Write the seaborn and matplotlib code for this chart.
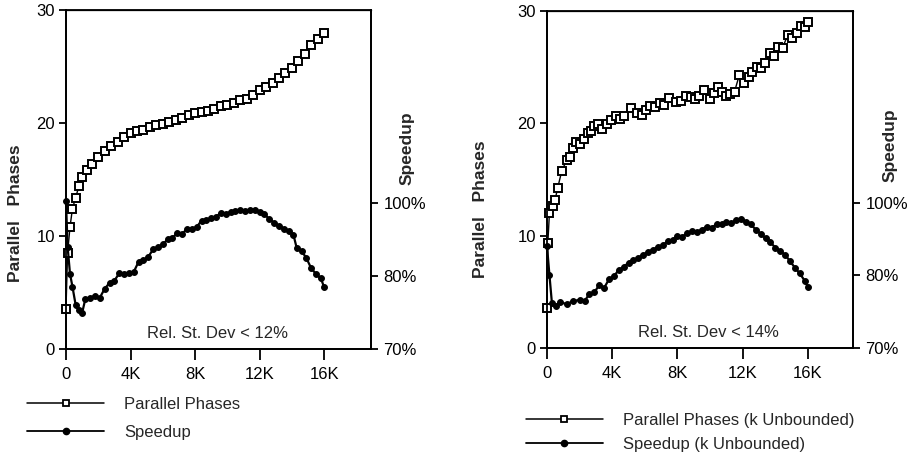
import matplotlib
matplotlib.use('Agg')
import matplotlib.pyplot as plt
from matplotlib.lines import Line2D
from matplotlib.ticker import FixedLocator, FuncFormatter, NullLocator
import numpy as np
import pandas as pd
import seaborn as sns

sns.set_theme(style='ticks')
plt.rcParams['font.family'] = ['Liberation Sans', 'DejaVu Sans']

# left panel: parallel phases / speedup
x_phases_a = [0, 100, 250, 400, 600, 800, 1000, 1300, 1600, 2000, 2400, 2800, 3200, 3600, 4000,
              4400, 4800, 5200, 5600, 6000, 6400, 6800, 7200, 7600, 8000, 8400, 8800, 9200, 9600,
              10000, 10400, 10800, 11200, 11600, 12000, 12400, 12800, 13200, 13600, 14000, 14400,
              14800, 15200, 15600, 16000]
phases_a = [3.5, 8.5, 10.8, 12.4, 13.4, 14.4, 15.2, 15.8, 16.4, 17.0, 17.5, 18.0, 18.3, 18.8, 19.1,
            19.3, 19.4, 19.6, 19.8, 19.9, 20.1, 20.3, 20.4, 20.7, 20.9, 21.0, 21.1, 21.2, 21.5,
            21.6, 21.8, 22.0, 22.1, 22.5, 22.9, 23.2, 23.5, 24.0, 24.4, 24.9, 25.5,
            26.1, 26.9, 27.4, 28.0]

x_speed_a = [0, 100, 250, 400, 600, 800, 1000, 1200, 1500, 1800, 2100, 2400, 2700, 3000, 3300,
             3600, 3900, 4200, 4500, 4800, 5100, 5400, 5700, 6000, 6300, 6600, 6900, 7200, 7500,
             7800, 8100, 8400, 8700, 9000, 9300, 9600, 9900, 10200, 10500, 10800, 11100, 11400,
             11700, 12000, 12300, 12600, 12900, 13200, 13500, 13800, 14100, 14300, 14600, 14900,
             15200, 15500, 15800, 16000]
speedup_a = [100.6, 88.0, 80.5, 78.5, 76.0, 75.3, 74.9, 76.8, 77.0, 77.2, 77.0, 78.2, 79.0, 79.3, 80.6,
             80.4, 80.6, 81.0, 83.8, 84.2, 85.2, 87.2, 87.9, 88.6, 90.0, 90.4, 91.8, 91.4, 93.0,
             92.8, 93.4, 95.2, 95.4, 95.8, 96.2, 97.4, 97.0, 97.6, 97.8, 98.0, 97.8, 98.2,
             98.0, 97.6, 97.0, 95.6, 94.6, 93.8, 93.0, 92.2, 91.2, 87.6, 86.8, 84.8,
             82.0, 80.4, 79.6, 78.4]

# right panel: k unbounded
x_phases_b = [0, 50, 150, 350, 500, 650, 900, 1200, 1400, 1600, 1800, 2000, 2250, 2500, 2700, 2900,
              3150, 3400, 3650, 3900, 4250, 4500, 4750, 5150, 5500, 5800, 6050, 6300, 6600, 6900,
              7200, 7500, 7900, 8200, 8550, 8800, 9050, 9350, 9650, 10000, 10250, 10500, 10750,
              11000, 11250, 11500, 11800, 12100, 12400, 12600, 12850, 13100, 13350, 13650, 13900,
              14150, 14450, 14750, 15050, 15300, 15600, 15800, 16000]
phases_b = [3.55, 9.3, 12.0, 12.6, 13.2, 14.2, 15.7, 16.7, 17.0, 17.8, 18.3, 18.1, 18.6, 19.1, 19.3, 19.7,
            19.9, 19.5, 19.9, 20.3, 20.6, 20.4, 20.6, 21.3, 20.9, 20.7, 21.2, 21.5, 21.4, 21.8,
            21.6, 22.2, 21.9, 22.0, 22.4, 22.3, 22.1, 22.4, 22.9, 22.1, 22.7, 23.2, 22.8,
            22.4, 22.6, 22.8, 24.3, 23.6, 24.1, 24.5, 25.0, 24.9, 25.3, 26.2, 26.0,
            26.8, 26.7, 27.8, 27.6, 28.0, 28.6, 28.5, 29.0]

x_speed_b = [0, 150, 300, 550, 800, 1200, 1600, 2000, 2300, 2600, 2900, 3200, 3500, 3800, 4100, 4400,
             4700, 5000, 5300, 5600, 5900, 6200, 6500, 6800, 7100, 7400, 7700, 8000, 8300, 8600,
             8900, 9200, 9500, 9800, 10100, 10400, 10700, 11000, 11300, 11600, 11900, 12200, 12500,
             12800, 13100, 13400, 13700, 14000, 14300, 14600, 14900, 15200, 15500, 15800, 16000]
speedup_b = [88.0, 80.0, 76.2, 75.8, 76.3, 76.0, 76.4, 76.6, 76.4, 77.4, 77.6, 78.6, 78.2, 79.4, 79.8, 81.4,
             82.2, 83.4, 84.0, 84.8, 85.6, 86.4, 87.0, 87.8, 88.2, 89.4, 89.8, 90.8, 90.6, 91.6,
             92.2, 91.8, 92.6, 93.4, 93.0, 94.2, 94.0, 94.7, 94.4, 95.2, 95.4, 94.8, 94.0,
             92.6, 91.4, 90.2, 89.0, 87.6, 86.6, 85.6, 83.8, 82.0, 80.4, 79.2, 78.3]

labels_a = ['Parallel Phases', 'Speedup']
labels_b = ['Parallel Phases (k Unbounded)', 'Speedup (k Unbounded)']
notes = ['Rel. St. Dev < 12%', 'Rel. St. Dev < 14%']
x_ticks = [0, 4000, 8000, 12000, 16000]
y_ticks = [0, 10, 20, 30]
speed_ticks = [70, 80, 100]

# speedup axis of the original is not linear: tie its % ticks to the phases scale
pct_knots = [70, 80, 100, 160]
unit_knots = [0, 6.5, 12.9, 32.1]


def fwd(p):
    return np.interp(p, pct_knots, unit_knots)


def inv(u):
    return np.interp(u, unit_knots, pct_knots)


fig = plt.figure(figsize=(9.15, 4.59), dpi=100)
boxes = [[0.0721, 0.2397, 0.3333, 0.7386], [0.5978, 0.2418, 0.3344, 0.7353]]
panels = [
    (x_phases_a, phases_a, x_speed_a, speedup_a, labels_a, notes[0], 18900, 9400),
    (x_phases_b, phases_b, x_speed_b, speedup_b, labels_b, notes[1], 18760, 9870),
]
ylab_pos = [((-0.141, 0.40), (1.118, 0.593)), ((-0.193, 0.41), (1.12, 0.60))]
leg_pos = [((0.030, 0.135), 0.75), ((0.575, 0.101), 0.55)]

kfmt = FuncFormatter(lambda v, p: '0' if v == 0 else '%dK' % round(v / 1000))

for i, (xp, yp, xs, ys, labs, note, xmax, note_x) in enumerate(panels):
    ax = fig.add_axes(boxes[i])
    ax2 = ax.twinx()
    dp = pd.DataFrame({'x': xp, 'y': yp})
    ds = pd.DataFrame({'x': xs, 'y': ys})
    sns.lineplot(data=dp, x='x', y='y', ax=ax, color='black', lw=1.0, estimator=None,
                 marker='s', markersize=5.6, markerfacecolor='white', markeredgecolor='black',
                 markeredgewidth=1.4, clip_on=False, zorder=3)
    ax2.set_yscale('function', functions=(fwd, inv))
    sns.lineplot(data=ds, x='x', y='y', ax=ax2, color='black', lw=1.6, estimator=None,
                 marker='o', markersize=4.2, markerfacecolor='black', markeredgecolor='black',
                 clip_on=False, zorder=3)
    ax.set_xlim(0, xmax)
    ax.set_ylim(0, 30)
    ax2.set_ylim(70, inv(30))
    ax.set_xticks(x_ticks)
    ax.xaxis.set_major_formatter(kfmt)
    ax.set_yticks(y_ticks)
    ax2.yaxis.set_major_locator(FixedLocator(speed_ticks))
    ax2.yaxis.set_minor_locator(NullLocator())
    ax2.set_yticklabels(['%d%%' % t for t in speed_ticks])
    for a in (ax, ax2):
        for s in a.spines.values():
            s.set_color('black')
            s.set_linewidth(1.3)
            s.set_visible(True)
    ax.spines['top'].set_linewidth(0.9)
    ax.tick_params(axis='x', direction='out', length=8, width=1.3, pad=5, labelsize=12, colors='black')
    ax.tick_params(axis='y', direction='out', length=5, width=1.3, pad=3, labelsize=12, colors='black')
    ax2.tick_params(axis='y', direction='out', length=5, width=1.3, pad=4, labelsize=12, colors='black')
    ax.set_xlabel('')
    ax.set_ylabel('Parallel   Phases', fontsize=12.5, fontweight='bold')
    ax2.set_ylabel('Speedup', fontsize=12.5, fontweight='bold', rotation=90, va='center', ha='center')
    ax.yaxis.set_label_coords(*ylab_pos[i][0])
    ax2.yaxis.set_label_coords(*ylab_pos[i][1])
    ax.text(note_x, 1.4, note, ha='center', va='center', fontsize=12)
    handles = [
        Line2D([], [], color='black', lw=1.1, marker='s', markersize=5, markerfacecolor='white',
               markeredgecolor='black', markeredgewidth=1.3),
        Line2D([], [], color='black', lw=1.3, marker='o', markersize=4.5, markerfacecolor='black'),
    ]
    ax.legend(handles, labs, loc='upper left', bbox_to_anchor=leg_pos[i][0],
              bbox_transform=fig.transFigure, frameon=False, fontsize=12, handlelength=4.6,
              handletextpad=1.2, labelspacing=leg_pos[i][1], borderpad=0, borderaxespad=0)

plt.savefig('out.png', dpi=100)
